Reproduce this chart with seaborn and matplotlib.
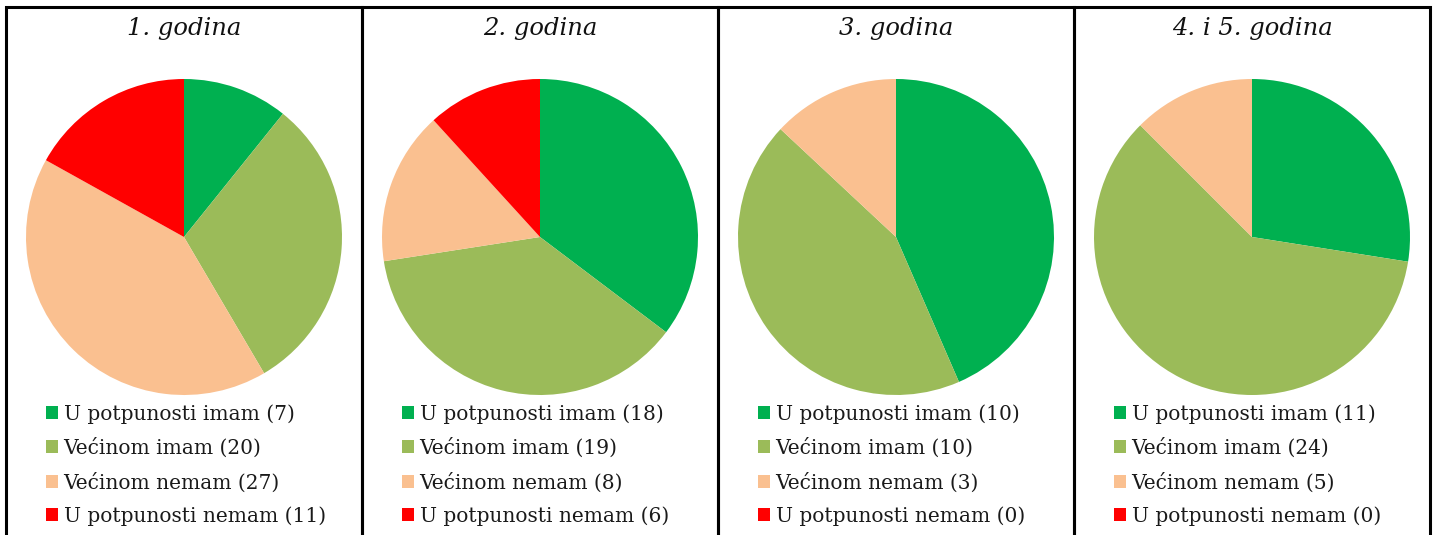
import matplotlib
matplotlib.use("Agg")
import matplotlib.pyplot as plt
import seaborn as sns
from matplotlib.patches import Rectangle, Patch

sns.set_theme(style="white")
plt.rcParams['font.family'] = ['DejaVu Serif']

titles = ["1. godina", "2. godina", "3. godina", "4. i 5. godina"]
categories = ["U potpunosti imam", "Većinom imam", "Većinom nemam", "U potpunosti nemam"]
values_y1 = [7, 20, 27, 11]
values_y2 = [18, 19, 8, 6]
values_y3 = [10, 10, 3, 0]
values_y45 = [11, 24, 5, 0]
colors = ["#00B050", "#9BBB59", "#FAC090", "#FF0000"]

all_values = [values_y1, values_y2, values_y3, values_y45]

W, H = 1438, 535
fig = plt.figure(figsize=(W / 100, H / 100), dpi=100)
fig.patch.set_facecolor("white")

panel_left = [6, 362, 718, 1074]
panel_w = 356
centers = [184, 540, 896, 1252]
cy = 237
r = 158

for i, (title, vals) in enumerate(zip(titles, all_values)):
    # panel border
    fig.patches.append(Rectangle((panel_left[i] / W, -0.05), panel_w / W, (H - 7) / H + 0.05,
                                 transform=fig.transFigure, fill=False,
                                 edgecolor="black", linewidth=2.2, zorder=0))
    ax = fig.add_axes([(centers[i] - r) / W, (H - cy - r) / H, 2 * r / W, 2 * r / H])
    wedges, _ = ax.pie(vals, colors=colors, startangle=90, counterclock=False,
                       radius=1.0, wedgeprops=dict(linewidth=0))
    ax.set_xlim(-1, 1)
    ax.set_ylim(-1, 1)
    ax.set_aspect("auto")
    ax.axis("off")
    fig.text(centers[i] / W, 1 - 28 / H, title, ha="center", va="center",
             fontsize=17.5, style="italic", color="#111111")
    handles = [Patch(facecolor=c, edgecolor="none") for c in colors]
    labels = [f"{c} ({v})" for c, v in zip(categories, vals)]
    fig.legend(handles, labels, loc="upper left",
               bbox_to_anchor=((panel_left[i] + 40) / W, 1 - 404 / H),
               frameon=False, fontsize=14.5, handlelength=0.62, handleheight=0.62,
               handletextpad=0.25, labelspacing=0.70, borderpad=0, borderaxespad=0,
               labelcolor="#1a1a1a")

fig.savefig("out.png", dpi=100, facecolor="white")
